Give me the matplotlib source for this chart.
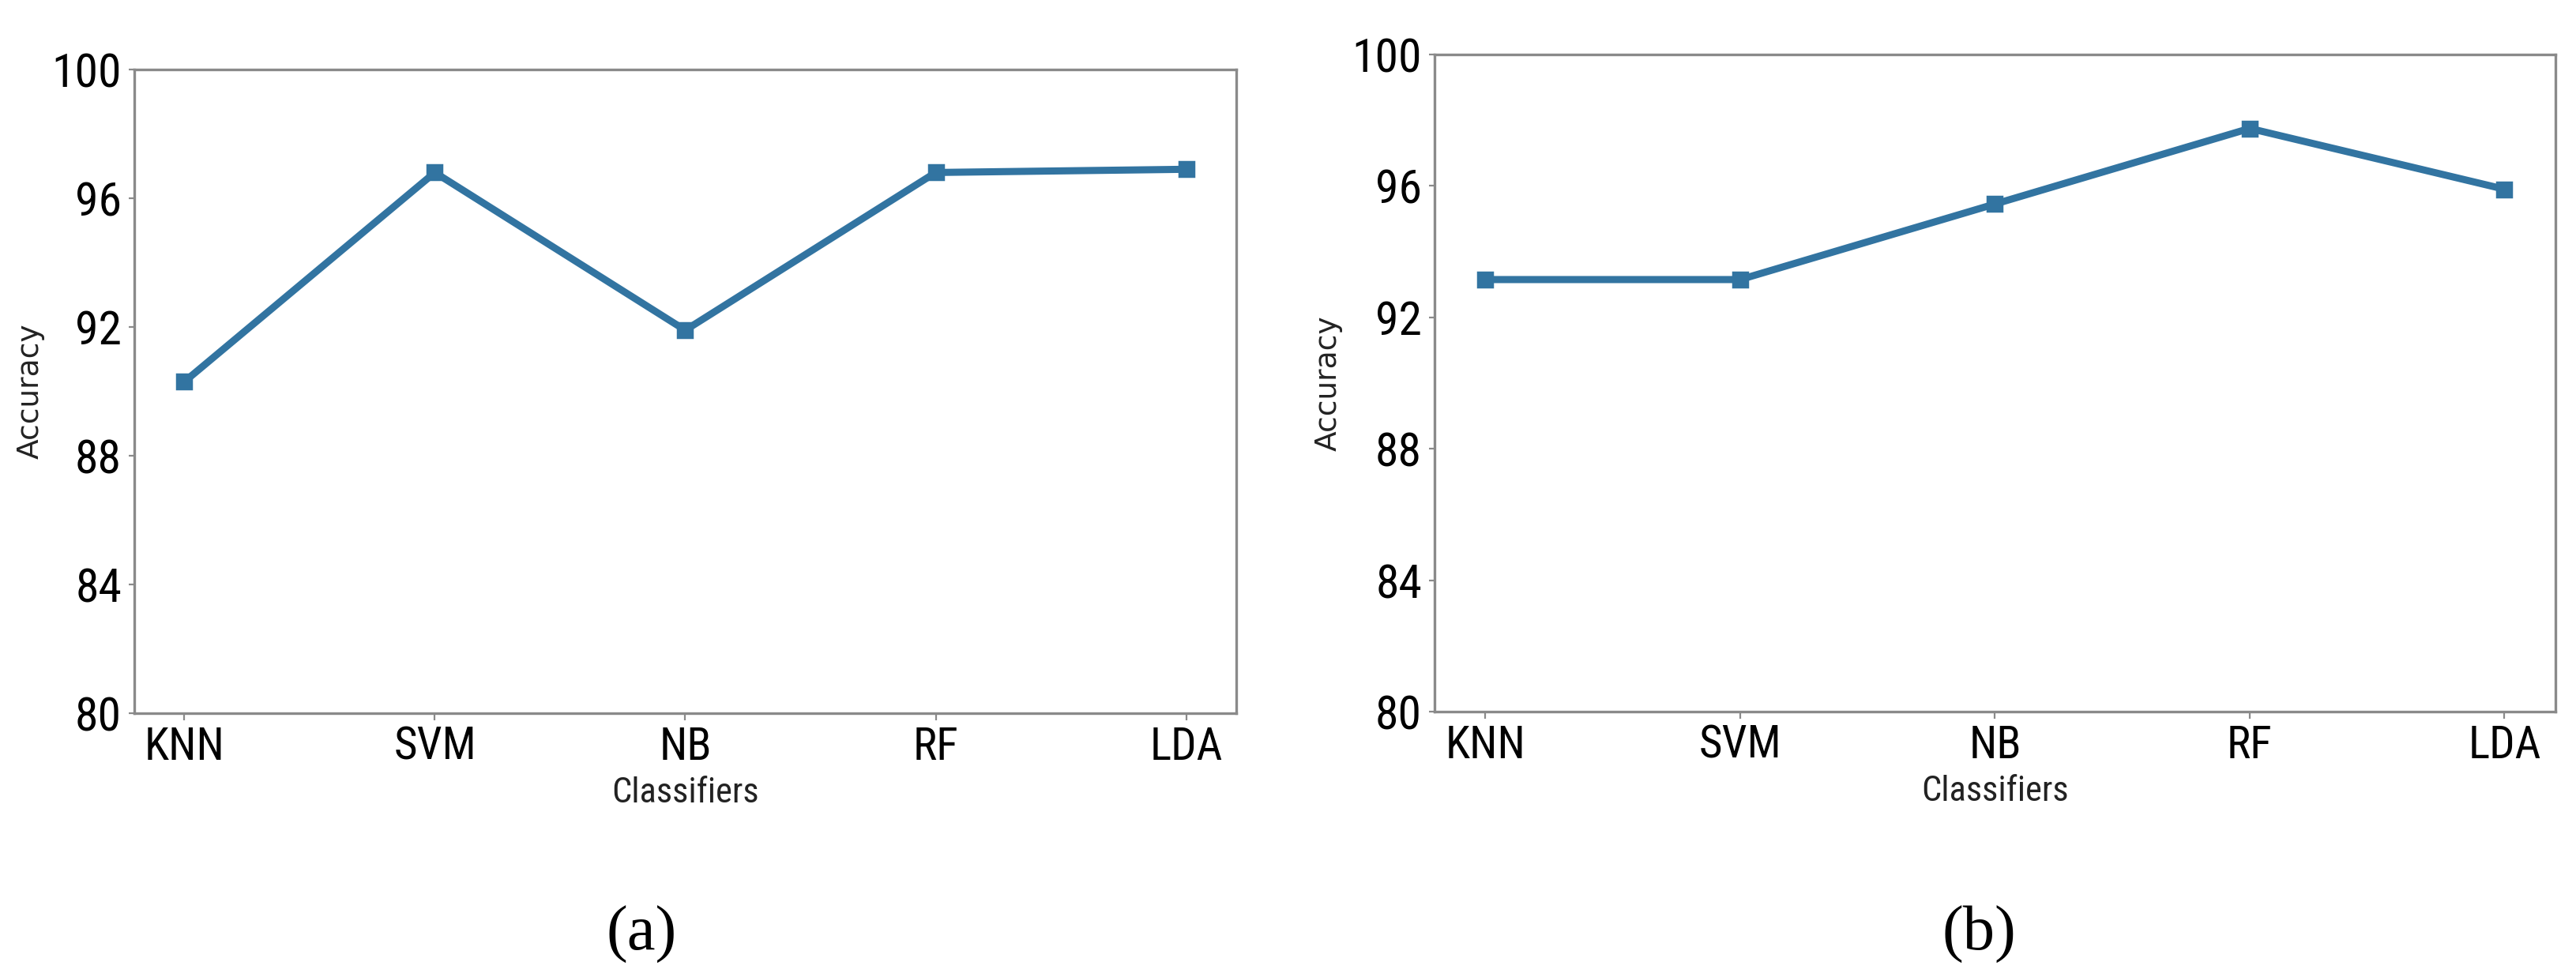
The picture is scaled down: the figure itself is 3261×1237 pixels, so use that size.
import numpy as np
import matplotlib
matplotlib.use("Agg")
import matplotlib.pyplot as plt
from matplotlib import font_manager

# ---- data ----
classifiers = ["KNN", "SVM", "NB", "RF", "LDA"]
accuracy_a = [90.3, 96.8, 91.9, 96.8, 96.9]
accuracy_b = [93.15, 93.15, 95.45, 97.75, 95.9]
y_ticks = [80, 84, 88, 92, 96, 100]
panel_labels = ["(a)", "(b)"]

# ---- fonts ----
def has_regular(name):
    for f in font_manager.fontManager.ttflist:
        if f.name == name and f.style == "normal" and str(f.weight) in ("400", "normal", "regular", "book"):
            return True
    return False

def pick(cands, fallback="DejaVu Sans"):
    for c in cands:
        if has_regular(c):
            return c
    return fallback

narrow = pick(["Roboto Condensed", "Open Sans Condensed", "PT Sans Narrow",
               "Liberation Sans Narrow", "Archivo Narrow", "Fira Sans Condensed",
               "IBM Plex Sans Condensed"], "Liberation Sans")
serif = pick(["Liberation Serif", "DejaVu Serif"])

W, H = 3262, 1237
fig = plt.figure(figsize=(W / 100, H / 100), dpi=100)
fig.patch.set_facecolor("white")

line_color = "#3274a1"
spine_color = "#8a8a8a"

boxes = [
    (170, 1565, 88, 903),
    (1816, 3235, 69, 901),
]
label_x = [812, 2505]
ylabel_right = [57, 1700]
xlabel_top = [983, 981]

for i, (vals, (x0, x1, y0, y1)) in enumerate(zip([accuracy_a, accuracy_b], boxes)):
    ax = fig.add_axes([x0 / W, 1 - y1 / H, (x1 - x0) / W, (y1 - y0) / H])
    xs = np.arange(len(classifiers))
    ax.plot(xs, vals, color=line_color, lw=6.5, marker="s", markersize=13,
            markeredgewidth=2.5, markeredgecolor=line_color, markerfacecolor=line_color,
            solid_joinstyle="miter", zorder=3)
    ax.set_xlim(-0.2, len(classifiers) - 1 + 0.2)
    ax.set_ylim(80, 100)
    ax.set_yticks(y_ticks)
    ax.set_xticks(xs)
    ax.set_xticklabels(classifiers, fontfamily=narrow, fontsize=41)
    ax.set_yticklabels([str(t) for t in y_ticks], fontfamily=narrow, fontsize=43)
    for s in ax.spines.values():
        s.set_color(spine_color)
        s.set_linewidth(2.4)
    ax.tick_params(axis="x", length=6.5, width=1.6, color=spine_color, pad=5)
    ax.tick_params(axis="y", length=5, width=1.6, color=spine_color, pad=6.5)
    ax.set_xlabel("Classifiers", fontfamily=narrow, fontsize=32, color="#222222")
    ax.xaxis.set_label_coords(0.5, -(xlabel_top[i] - y1) / (y1 - y0))
    ax.set_ylabel("Accuracy", fontfamily="DejaVu Sans", fontsize=27, color="#222222")
    ax.yaxis.set_label_coords((ylabel_right[i] - x0) / (x1 - x0), 0.5)
    fig.text(label_x[i] / W, 1 - 1183 / H, panel_labels[i], fontfamily=serif,
             fontsize=58, ha="center", va="center", color="black")

fig.savefig("out.png", dpi=100, facecolor="white")
